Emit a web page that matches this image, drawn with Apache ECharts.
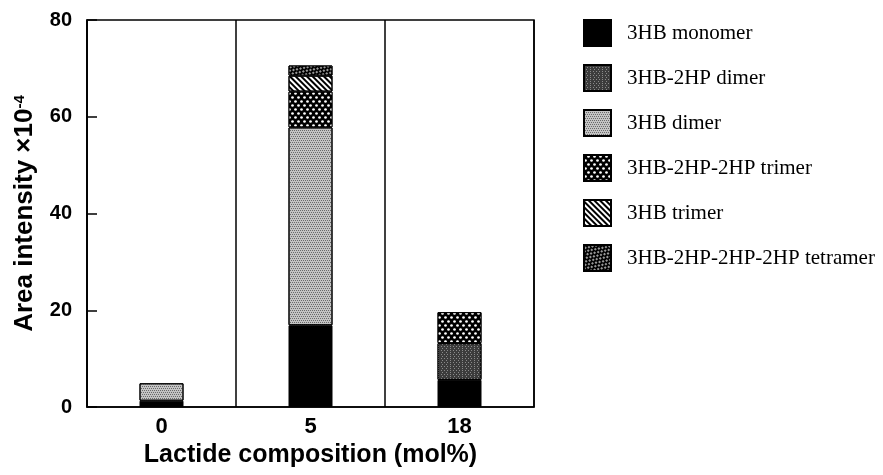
<!DOCTYPE html>
<html>
<head>
<meta charset="utf-8">
<script src="https://cdn.jsdelivr.net/npm/echarts@6/dist/echarts.min.js"></script>
<style>
  html, body { margin: 0; padding: 0; background: #fff; }
  #main { width: 883px; height: 475px; }
</style>
</head>
<body>
<div id="main"></div>
<script>
var categories = ["0", "5", "18"];
var yTicks = [0, 20, 40, 60, 80];

var monomer = [1.3, 16.9, 5.6];
var hpDimer = [null, null, 7.6];
var dimer = [3.6, 40.9, null];
var hpTrimer = [null, 7.4, 6.4];
var trimer = [null, 3.3, null];
var tetramer = [null, 2.1, null];

var names = [
  "3HB monomer",
  "3HB-2HP dimer",
  "3HB dimer",
  "3HB-2HP-2HP trimer",
  "3HB trimer",
  "3HB-2HP-2HP-2HP tetramer",
];

var styles = [
  { color: "#000" },
  {
    color: "#3c3c3c",
    decal: { symbol: "rect", symbolSize: 1, color: "#8a8a8a", dashArrayX: [[1, 2], [0, 1.5, 1, 0.5]], dashArrayY: [1, 1] },
  },
  {
    color: "#c4c4c4",
    decal: { symbol: "rect", symbolSize: 1, color: "#6a6a6a", dashArrayX: [[1, 1], [0, 1, 1, 0]], dashArrayY: [1, 0.5] },
  },
  {
    color: "#000",
    decal: { symbol: "circle", symbolSize: 0.9, color: "#fff", dashArrayX: [[3, 3], [0, 3, 3, 0]], dashArrayY: [3, 0.5] },
  },
  {
    color: "#fff",
    decal: { symbol: "rect", symbolSize: 1, color: "#000", dashArrayX: [1, 0], dashArrayY: [2, 2], rotation: Math.PI / 4 },
  },
  {
    color: "#000",
    decal: { symbol: "rect", symbolSize: 0.8, color: "#fff", dashArrayX: [[2, 2], [0, 2, 2, 0]], dashArrayY: [2, 0.5], rotation: Math.PI / 4 },
  },
];

var seriesData = [monomer, hpDimer, dimer, hpTrimer, trimer, tetramer];

var myChart = echarts.init(document.getElementById("main"));
myChart.setOption({
  animation: false,
  backgroundColor: "#fff",
  grid: {
    left: 87,
    right: 349,
    top: 20,
    bottom: 68,
    show: true,
    borderColor: "#000",
    borderWidth: 1.5,
  },
  legend: {
    orient: "vertical",
    left: 583,
    top: 19,
    padding: 0,
    icon: "rect",
    itemWidth: 27,
    itemHeight: 26,
    itemGap: 17,
    data: names,
    textStyle: {
      fontFamily: "Liberation Serif",
      fontSize: 21,
      color: "#000",
      padding: [0, 0, 0, 11],
    },
  },
  xAxis: {
    type: "category",
    data: categories,
    boundaryGap: true,
    axisLine: { lineStyle: { color: "#000", width: 1.5 } },
    axisTick: { show: false },
    splitLine: { show: true, lineStyle: { color: "#000", width: 1.5 } },
    axisLabel: {
      color: "#000",
      fontFamily: "Liberation Sans",
      fontWeight: "bold",
      fontSize: 22,
      margin: 9,
    },
    name: "Lactide composition (mol%)",
    nameLocation: "middle",
    nameGap: 33,
    nameTextStyle: {
      color: "#000",
      fontFamily: "Liberation Sans",
      fontWeight: "bold",
      fontSize: 25,
    },
  },
  yAxis: {
    type: "value",
    min: yTicks[0],
    max: yTicks[yTicks.length - 1],
    interval: 20,
    axisLine: { show: true, lineStyle: { color: "#000", width: 1.5 } },
    axisTick: { show: true, inside: true, length: 10, lineStyle: { color: "#000", width: 1.5 } },
    splitLine: { show: false },
    axisLabel: {
      color: "#000",
      fontFamily: "Liberation Sans",
      fontWeight: "bold",
      fontSize: 20,
      margin: 15,
    },
    name: "Area intensity \u00d710{sup|-4}",
    nameLocation: "middle",
    nameRotate: 90,
    nameGap: 49,
    nameTextStyle: {
      color: "#000",
      fontFamily: "Liberation Sans",
      fontWeight: "bold",
      fontSize: 26,
      rich: {
        sup: {
          fontFamily: "Liberation Sans",
          fontWeight: "bold",
          fontSize: 15,
          verticalAlign: "top",
          padding: [0, 0, 11, 0],
        },
      },
    },
  },
  series: seriesData.map(function (d, i) {
    return {
      name: names[i],
      type: "bar",
      stack: "total",
      barWidth: 44,
      data: d,
      itemStyle: Object.assign({ borderColor: "#000", borderWidth: 1 }, styles[i]),
    };
  }),
});
</script>
</body>
</html>
